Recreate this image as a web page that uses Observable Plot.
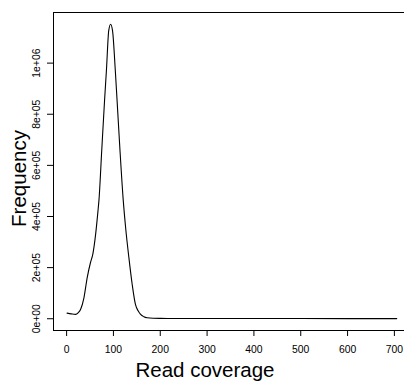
<!DOCTYPE html>
<html>
<head>
<meta charset="utf-8">
<script src="https://cdn.jsdelivr.net/npm/d3@7"></script>
<script src="https://cdn.jsdelivr.net/npm/@observablehq/plot@0.6"></script>
<style>
  html, body { margin: 0; padding: 0; background: #fff; }
  #chart svg { display: block; }
</style>
</head>
<body>
<div id="chart"></div>
<script>
// Read coverage (x) and frequency (y)
const coverage = [1, 10, 19, 25, 30, 37, 44, 51, 56, 62, 67, 69, 75, 81, 85, 90, 94, 98, 104, 109, 114, 121, 126, 133, 140, 147, 153, 158, 165, 172, 185, 200, 250, 300, 400, 500, 600, 705];
const frequency = [22000, 19000, 17000, 24000, 37000, 82000, 161000, 220000, 253000, 331000, 422000, 462000, 658000, 853000, 971000, 1128000, 1152000, 1128000, 971000, 815000, 658000, 462000, 357000, 239000, 135000, 56000, 30000, 17000, 8000, 4000, 2000, 1500, 1000, 1000, 800, 700, 600, 500];

const xTicks = [0, 100, 200, 300, 400, 500, 600, 700];
const xTickLabels = ["0", "100", "200", "300", "400", "500", "600", "700"];
const yTicks = [0, 200000, 400000, 600000, 800000, 1000000];
const yTickLabels = ["0e+00", "2e+05", "4e+05", "6e+05", "8e+05", "1e+06"];
const xLabel = "Read coverage";
const yLabel = "Frequency";

const data = coverage.map((c, i) => ({coverage: c, frequency: frequency[i]}));
const font = "'Liberation Sans', Arial, Helvetica, sans-serif";

const chart = Plot.plot({
  width: 404,
  height: 381,
  marginLeft: 53,
  marginRight: -3,
  marginTop: 12,
  marginBottom: 51,
  style: {fontFamily: font, background: "#fff", color: "#000", overflow: "hidden"},
  x: {domain: [-28, 728], label: null},
  y: {domain: [-46000, 1198000], label: null},
  marks: [
    Plot.frame({stroke: "#000", strokeWidth: 1}),
    Plot.axisX(xTicks, {
      tickSize: 6, tickPadding: 9, fontSize: 10.4, label: null,
      tickFormat: d => xTickLabels[xTicks.indexOf(d)]
    }),
    Plot.axisY(yTicks, {
      tickSize: 6, tickPadding: 7.7, fontSize: 10.4, label: null, tickRotate: -90,
      textAnchor: "middle", lineAnchor: "bottom",
      tickFormat: d => yTickLabels[yTicks.indexOf(d)]
    }),
    Plot.line(data, {x: "coverage", y: "frequency", stroke: "#000", strokeWidth: 1.1, curve: "monotone-x"}),
    Plot.text([xLabel], {text: d => d, frameAnchor: "bottom", dx: -25.5, dy: 46, fontSize: 20.5, textAnchor: "middle", lineAnchor: "bottom", fill: "#000"}),
    Plot.text([yLabel], {text: d => d, frameAnchor: "left", rotate: -90, dx: -28, dy: 7, fontSize: 20.5, textAnchor: "middle", lineAnchor: "bottom", fill: "#000"})
  ]
});
document.getElementById("chart").appendChild(chart);
</script>
</body>
</html>
